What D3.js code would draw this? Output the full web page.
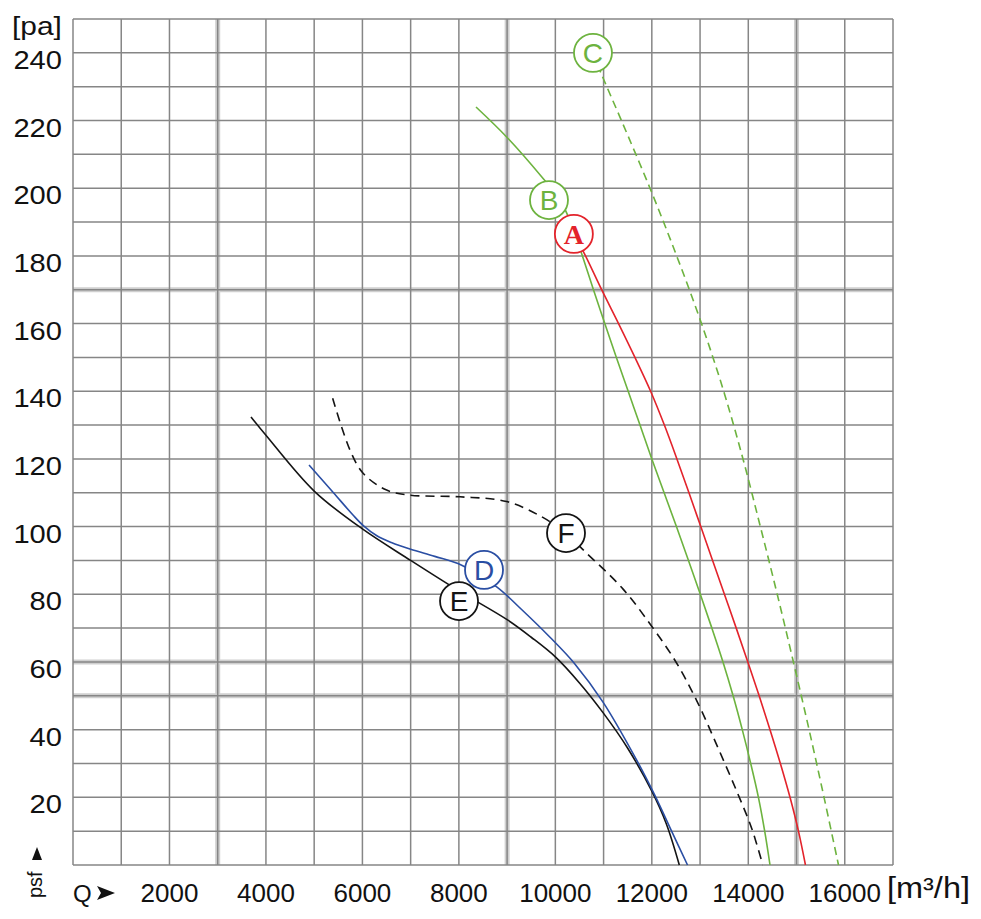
<!DOCTYPE html>
<html lang="en">
<head>
<meta charset="UTF-8">
<title>Fan curves psf vs Q</title>
<script src="https://d3js.org/d3.v7.min.js"></script>
<style>
  body { margin: 0; background: #fff; }
  text { font-family: "Liberation Sans", Arial, sans-serif; fill: #111; }
</style>
</head>
<body>
<div id="chart"></div>
<script>
// axis ticks
const qTicks = [2000, 4000, 6000, 8000, 10000, 12000, 14000, 16000];
const pTicks = [20, 40, 60, 80, 100, 120, 140, 160, 180, 200, 220, 240];

// curves as [Q m3/h, psf pa]
const curveA = [[10384,186.5],[10615,180.3],[10960,170],[11310,160],[11650,150],[11975,140],[12260,130],[12520,120],[12770,110],[13015,100],[13260,90],[13505,80],[13750,70],[13990,60],[14225,50],[14450,40],[14665,30],[14865,20],[15040,10],[15185,0]];
const curveB = [[8355,224],[9000,215],[9720,203.3],[10096,196.5],[10345,189],[10553,180.3],[10790,170],[11025,160],[11265,150],[11510,140],[11755,130],[12000,120],[12255,110],[12510,100],[12760,90],[13005,80],[13245,70],[13475,60],[13685,50],[13875,40],[14050,30],[14210,20],[14340,10],[14450,0]];
const curveC = [[10780,240],[10947,234],[11370,220],[11962,200],[12515,180],[13030,160],[13490,140],[13890,120],[14250,100],[14600,80],[14935,60],[15260,40],[15570,20],[15870,0]];
const curveD = [[4893,118.2],[5400,110],[5800,103.5],[6018,100.3],[6300,97.3],[6600,95.3],[7000,93.3],[7500,91.2],[8058,88.6],[8784,82.2],[9300,75.5],[9889,67.3],[10400,59.5],[10995,48],[11686,31],[12066,20.5],[12410,10],[12740,0]];
const curveE = [[3690,132.4],[4000,127],[5000,110.5],[6000,99.3],[7000,90],[8000,81],[9000,72.5],[9500,67.3],[10000,61.5],[10500,53.8],[11000,44.8],[11500,34.5],[12000,21.8],[12300,12.2],[12570,0]];
const curveF = [[5383,137.9],[5743,122.6],[6018,115.7],[6502,110.8],[6986,109.3],[8023,108.8],[8991,107.4],[9717,102.9],[10221,98],[10615,92.6],[11400,81.6],[12000,70.5],[12500,60],[12930,48.6],[13345,35.5],[13760,21.8],[14071,10.8],[14300,0]];

// curve label circles
const labelNames = ["A", "B", "C", "D", "E", "F"];
const labelQ = [10384, 9868, 10780, 8521, 8003, 10221];
const labelP = [186.5, 196.5, 240, 87.2, 78, 98.1];

const width = 981, height = 919;
const red = "#e3232b", green = "#6db33f", blue = "#2a4ea3", black = "#141414";

const svg = d3.select("#chart").append("svg")
  .attr("width", width)
  .attr("height", height);

const x = d3.scaleLinear().domain([0, 17000]).range([73, 893]);
const y = d3.scaleLinear().domain([0, 250]).range([865, 19]);

// soft wide lines that show up in the scan
const softQ = [3000, 9000, 15000];
const softP = [50, 60, 170];
svg.append("g").selectAll("line").data(softQ).enter().append("line")
  .attr("x1", d => x(d)).attr("x2", d => x(d))
  .attr("y1", y(250)).attr("y2", y(0))
  .attr("stroke", "#cfcfcf").attr("stroke-width", 5);
svg.append("g").selectAll("line").data(softP).enter().append("line")
  .attr("x1", x(0)).attr("x2", x(17000))
  .attr("y1", d => y(d)).attr("y2", d => y(d))
  .attr("stroke", "#cfcfcf").attr("stroke-width", 5);

// grid
const grid = svg.append("g").attr("stroke", "#868686").attr("stroke-width", 1.5);
grid.selectAll(".vg").data(d3.range(0, 17001, 1000)).enter().append("line")
  .attr("x1", d => x(d)).attr("x2", d => x(d))
  .attr("y1", y(250)).attr("y2", y(0));
grid.selectAll(".hg").data(d3.range(0, 251, 10)).enter().append("line")
  .attr("x1", x(0)).attr("x2", x(17000))
  .attr("y1", d => y(d)).attr("y2", d => y(d));

// tick labels
svg.append("g").selectAll("text").data(qTicks).enter().append("text")
  .attr("x", d => x(d)).attr("y", 902)
  .attr("text-anchor", "middle")
  .attr("font-size", 26)
  .text(d => d);

svg.append("g").selectAll("text").data(pTicks).enter().append("text")
  .attr("transform", d => `translate(62,${y(d) + 16}) scale(1.12,1)`)
  .attr("text-anchor", "end")
  .attr("font-size", 26)
  .text(d => d);

// axis titles
svg.append("text").attr("transform", "translate(12,35) scale(1.15,1)")
  .attr("font-size", 26).text("[pa]");
svg.append("text").attr("transform", "translate(887,898) scale(1.12,1)")
  .attr("font-size", 29).text("[m³/h]");
svg.append("text").attr("x", 73).attr("y", 902).attr("font-size", 24).text("Q");
svg.append("path").attr("d", "M97,886 L115,893 L97,900 L101,893 Z").attr("fill", "#111");
svg.append("text").attr("transform", "translate(42,898) rotate(-90)")
  .attr("font-size", 20).text("psf");
svg.append("path").attr("d", "M32,860 L37,847 L42,860 Z").attr("fill", "#111");

// curves
const line = d3.line()
  .x(d => x(d[0]))
  .y(d => y(d[1]))
  .curve(d3.curveCatmullRom.alpha(0.5));

const series = [
  { data: curveE, color: black, dash: null },
  { data: curveF, color: black, dash: "9,6" },
  { data: curveD, color: blue, dash: null },
  { data: curveB, color: green, dash: null },
  { data: curveC, color: green, dash: "8,5" },
  { data: curveA, color: red, dash: null }
];

svg.append("g").selectAll("path").data(series).enter().append("path")
  .attr("d", d => line(d.data))
  .attr("fill", "none")
  .attr("stroke", d => d.color)
  .attr("stroke-width", 1.6)
  .attr("stroke-dasharray", d => d.dash);

// label circles
const labelColors = [red, green, green, blue, black, black];
const labels = svg.append("g").selectAll("g").data(labelNames).enter().append("g")
  .attr("transform", (d, i) => `translate(${x(labelQ[i])},${y(labelP[i])})`);

labels.append("circle")
  .attr("r", 19)
  .attr("fill", "#fff")
  .attr("stroke", (d, i) => labelColors[i])
  .attr("stroke-width", 1.8);

labels.append("text")
  .attr("text-anchor", "middle")
  .attr("y", 10)
  .attr("font-size", 28)
  .attr("font-weight", (d, i) => i === 0 ? "bold" : "normal")
  .style("font-family", (d, i) => i === 0 ? "'Liberation Serif', 'Times New Roman', serif" : null)
  .style("fill", (d, i) => labelColors[i])
  .text(d => d);
</script>
</body>
</html>
